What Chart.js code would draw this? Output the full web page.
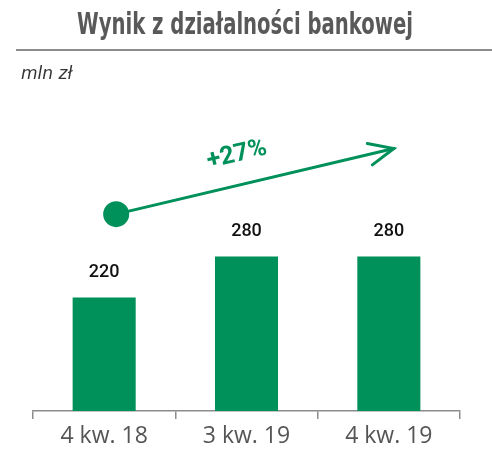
<!DOCTYPE html>
<html>
<head>
<meta charset="utf-8">
<script src="https://cdn.jsdelivr.net/npm/chart.js@4/dist/chart.umd.min.js"></script>
<style>
  html, body { margin: 0; padding: 0; background: #fff; }
  #wrap { position: relative; width: 492px; height: 449px; }
</style>
</head>
<body>
<div id="wrap"><canvas id="myChart" width="492" height="449"></canvas></div>
<script>
var quarters = ['4 kw. 18', '3 kw. 19', '4 kw. 19'];
var bankResult = [220, 280, 280];
var growthLabel = '+27%';

var green = '#00905a';
var grey = '#8c8c8c';

// title, rule under it and the unit note
var headerPlugin = {
    id: 'header',
    beforeDraw: function(chart) {
        var ctx = chart.ctx;
        ctx.save();
        ctx.fillStyle = '#595959';
        ctx.font = 'bold 31px "DejaVu Sans Condensed", "DejaVu Sans"';
        ctx.textBaseline = 'alphabetic';
        var title = 'Wynik z działalności bankowej';
        var w = ctx.measureText(title).width;
        var target = 336;
        ctx.translate(77, 34);
        ctx.scale(target / w, 1);
        ctx.fillText(title, 0, 0);
        ctx.restore();

        ctx.save();
        ctx.strokeStyle = grey;
        ctx.lineWidth = 2;
        ctx.beginPath();
        ctx.moveTo(16, 50);
        ctx.lineTo(492, 50);
        ctx.stroke();

        ctx.fillStyle = '#333';
        ctx.font = 'italic 17px "DejaVu Sans"';
        ctx.fillText('mln zł', 21, 79);
        ctx.restore();
    }
};

// value labels over the bars and the growth arrow
var labelPlugin = {
    id: 'labels',
    afterDatasetsDraw: function(chart) {
        var ctx = chart.ctx;
        var meta = chart.getDatasetMeta(0);
        ctx.save();
        ctx.fillStyle = '#111';
        ctx.font = '500 18px Roboto';
        ctx.textAlign = 'center';
        ctx.textBaseline = 'middle';
        meta.data.forEach(function(bar, i) {
            ctx.fillText(bankResult[i], bar.x, bar.y - 25);
        });

        var x = chart.scales.x, y = chart.scales.y;
        var sx = x.getPixelForValue(0) + 12, sy = y.getPixelForValue(342);
        var ex = x.getPixelForValue(2) + 5, ey = y.getPixelForValue(438);
        var ang = Math.atan2(ey - sy, ex - sx);

        ctx.strokeStyle = green;
        ctx.fillStyle = green;
        ctx.lineWidth = 3;
        ctx.lineCap = 'round';
        ctx.beginPath();
        ctx.moveTo(sx, sy);
        ctx.lineTo(ex, ey);
        ctx.stroke();
        ctx.beginPath();
        ctx.moveTo(ex + 27 * Math.cos(ang + Math.PI - 0.42), ey + 27 * Math.sin(ang + Math.PI - 0.42));
        ctx.lineTo(ex, ey);
        ctx.lineTo(ex + 27 * Math.cos(ang + Math.PI + 0.42), ey + 27 * Math.sin(ang + Math.PI + 0.42));
        ctx.stroke();

        ctx.beginPath();
        ctx.arc(sx, sy, 13, 0, Math.PI * 2);
        ctx.fill();

        ctx.translate(237, 155);
        ctx.rotate(ang);
        ctx.font = 'bold 25px Roboto';
        ctx.fillText(growthLabel, 0, 0);
        ctx.restore();
    }
};

var ctx = document.getElementById('myChart').getContext('2d');
var myChart = new Chart(ctx, {
    type: 'bar',
    data: {
        labels: quarters,
        datasets: [{
            data: bankResult,
            backgroundColor: green,
            borderWidth: 0,
            barPercentage: 0.443,
            categoryPercentage: 1
        }]
    },
    options: {
        responsive: false,
        animation: false,
        layout: { padding: { left: 33, right: 32, top: 100, bottom: 0 } },
        plugins: {
            legend: { display: false },
            tooltip: { enabled: false }
        },
        scales: {
            x: {
                afterFit: function(axis) { axis.height = 38; },
                grid: {
                    display: true,
                    drawOnChartArea: false,
                    drawTicks: true,
                    tickLength: 8,
                    color: grey,
                    lineWidth: 1.5
                },
                border: { color: grey, width: 1.5 },
                ticks: {
                    color: '#555',
                    padding: 6,
                    font: { family: '"Open Sans"', size: 23, lineHeight: 1 }
                }
            },
            y: {
                display: false,
                min: 54,
                max: 509
            }
        }
    },
    plugins: [headerPlugin, labelPlugin]
});
</script>
</body>
</html>
